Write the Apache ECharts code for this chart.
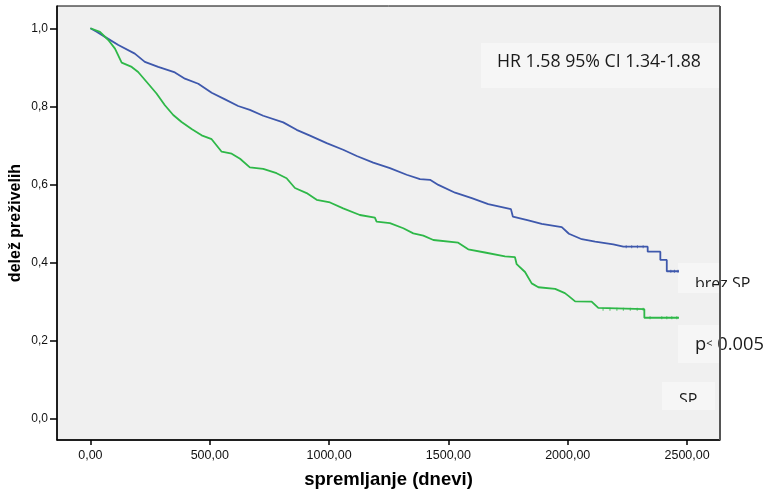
<!DOCTYPE html>
<html>
<head>
<meta charset="utf-8">
<script src="https://cdn.jsdelivr.net/npm/echarts@6/dist/echarts.min.js"></script>
<style>
  html, body { margin: 0; padding: 0; background: #ffffff; }
  #chart { width: 765px; height: 491px; }
</style>
</head>
<body>
<div id="chart"></div>
<script>
// Kaplan-Meier survival: follow-up in days vs. proportion surviving
const xTicks = [0, 500, 1000, 1500, 2000, 2500];
const yTicks = [0, 0.2, 0.4, 0.6, 0.8, 1.0];

// group without SP  [day, survival]
const brezSP = [
  [0, 1.0], [26, 0.991], [61, 0.978], [117, 0.957], [186, 0.935], [228, 0.914],
  [284, 0.901], [354, 0.887], [396, 0.871], [452, 0.858], [508, 0.835], [564, 0.818],
  [619, 0.801], [668, 0.791], [724, 0.776], [808, 0.759], [864, 0.740], [920, 0.725],
  [990, 0.706], [1059, 0.689], [1116, 0.673], [1185, 0.656], [1255, 0.642], [1325, 0.625],
  [1381, 0.614], [1423, 0.612], [1458, 0.599], [1528, 0.579], [1598, 0.565], [1667, 0.550],
  [1762, 0.537], [1770, 0.518], [1835, 0.508], [1891, 0.499], [1975, 0.491], [2005, 0.474],
  [2059, 0.460], [2115, 0.454], [2191, 0.447], [2233, 0.441], [2335, 0.441], [2335, 0.428],
  [2388, 0.428], [2388, 0.407], [2415, 0.407], [2415, 0.378], [2466, 0.378]
];

// group with SP  [day, survival]
const sp = [
  [0, 1.0], [40, 0.991], [75, 0.970], [103, 0.948], [131, 0.912], [173, 0.901],
  [200, 0.888], [235, 0.863], [277, 0.833], [312, 0.803], [347, 0.778], [382, 0.760],
  [424, 0.742], [466, 0.726], [508, 0.716], [550, 0.684], [592, 0.679], [627, 0.666],
  [668, 0.644], [724, 0.640], [780, 0.629], [822, 0.616], [857, 0.591], [906, 0.578],
  [948, 0.561], [1004, 0.554], [1059, 0.539], [1129, 0.522], [1192, 0.515], [1199, 0.505],
  [1255, 0.501], [1311, 0.488], [1353, 0.475], [1395, 0.469], [1437, 0.458], [1541, 0.451],
  [1583, 0.434], [1653, 0.426], [1737, 0.416], [1779, 0.414], [1786, 0.396], [1821, 0.376],
  [1849, 0.347], [1877, 0.337], [1947, 0.333], [1988, 0.322], [2003, 0.315], [2031, 0.301],
  [2100, 0.300], [2128, 0.284], [2135, 0.281], [2321, 0.281], [2321, 0.259], [2466, 0.259]
];

// censored observations in the tail
const brezSPCensored = [[2245, 0.441], [2268, 0.441], [2292, 0.441], [2316, 0.441], [2432, 0.378], [2447, 0.378], [2462, 0.378]];
const spCensored = [
  [2148, 0.281], [2177, 0.281], [2206, 0.281], [2233, 0.281], [2262, 0.281], [2291, 0.281], [2316, 0.281],
  [2345, 0.259], [2394, 0.259], [2415, 0.259], [2436, 0.259], [2457, 0.259]
];

const xTitle = 'spremljanje (dnevi)';
const yTitle = 'delež preživelih';
const hrText = 'HR 1.58 95% CI 1.34-1.88';
const groupLabels = ['brez SP', 'SP'];

const BLUE = '#3E58AC';
const GREEN = '#2EB848';
const PLOT_BG = '#f0f0f0';
const BOX_BG = '#f6f6f6';

const chart = echarts.init(document.getElementById('chart'), null, { renderer: 'canvas' });

const fmtX = v => v.toFixed(2).replace('.', ',');
const fmtY = v => v.toFixed(1).replace('.', ',');

chart.setOption({
  animation: false,
  backgroundColor: '#ffffff',
  grid: {
    left: 57, right: 45, top: 6, bottom: 51,
    show: true,
    backgroundColor: PLOT_BG,
    borderColor: '#000000',
    borderWidth: 1,
    outerBoundsMode: 'none'
  },
  xAxis: {
    type: 'value',
    min: -140, max: 2638,
    name: xTitle,
    nameLocation: 'middle',
    nameGap: 30,
    nameTextStyle: { fontFamily: 'Liberation Sans', fontWeight: 'bold', fontSize: 18.5, color: '#000' },
    axisLine: { show: true, onZero: false, lineStyle: { color: '#000', width: 1.5 } },
    axisTick: { show: true, customValues: xTicks, length: 5, lineStyle: { color: '#000', width: 1.5 } },
    axisLabel: { customValues: xTicks, formatter: fmtX, margin: 9, fontFamily: 'Liberation Sans', fontSize: 12.5, color: '#111' },
    splitLine: { show: false }
  },
  yAxis: {
    type: 'value',
    min: -0.054, max: 1.057,
    name: yTitle,
    nameLocation: 'middle',
    nameGap: 33,
    nameMoveOverlap: false,
    nameTextStyle: { fontFamily: 'Liberation Sans', fontWeight: 'bold', fontSize: 16, color: '#000' },
    axisLine: { show: true, onZero: false, lineStyle: { color: '#000', width: 1.5 } },
    axisTick: { show: true, customValues: yTicks, length: 7, lineStyle: { color: '#000', width: 1.5 } },
    axisLabel: { customValues: yTicks, formatter: fmtY, margin: 9, fontFamily: 'Liberation Sans', fontSize: 12, color: '#111' },
    splitLine: { show: false }
  },
  series: [
    {
      name: groupLabels[0], type: 'line', data: brezSP,
      showSymbol: false, silent: true,
      lineStyle: { color: BLUE, width: 1.8 }, z: 3
    },
    {
      name: groupLabels[1], type: 'line', data: sp,
      showSymbol: false, silent: true,
      lineStyle: { color: GREEN, width: 1.8 }, z: 3
    },
    {
      type: 'scatter', data: brezSPCensored, silent: true,
      symbol: 'rect', symbolSize: [1, 3], itemStyle: { color: BLUE }, z: 4
    },
    {
      type: 'scatter', data: spCensored, silent: true,
      symbol: 'rect', symbolSize: [1, 3], itemStyle: { color: GREEN }, z: 4
    }
  ],
  graphic: [
    // annotation boxes
    { type: 'rect', shape: { x: 481, y: 43, width: 238, height: 45 }, style: { fill: BOX_BG }, z: 1, silent: true },
    { type: 'rect', shape: { x: 678, y: 263, width: 41, height: 30 }, style: { fill: BOX_BG }, z: 1, silent: true },
    { type: 'rect', shape: { x: 678, y: 325, width: 41, height: 38 }, style: { fill: BOX_BG }, z: 1, silent: true },
    { type: 'rect', shape: { x: 662, y: 382, width: 53, height: 28 }, style: { fill: BOX_BG }, z: 1, silent: true },
    {
      type: 'text', x: 497, y: 62, z: 10, silent: true,
      style: { text: hrText, fontFamily: 'Open Sans', fontSize: 17.7, fill: '#1a1a1a', verticalAlign: 'middle' }
    },
    {
      type: 'text', x: 695, y: 292, z: 10, silent: true,
      style: { text: groupLabels[0], fontFamily: 'Open Sans', fontSize: 16, fill: '#1a1a1a', verticalAlign: 'bottom' }
    },
    {
      type: 'text', x: 679, y: 408.5, z: 10, silent: true,
      style: { text: groupLabels[1], fontFamily: 'Open Sans', fontSize: 16, fill: '#1a1a1a', verticalAlign: 'bottom' }
    },
    {
      type: 'text', x: 695, y: 354, z: 10, silent: true,
      style: {
        text: '{p|p}{lt|<}{p| 0.005}',
        verticalAlign: 'bottom',
        rich: {
          p: { fontFamily: 'Open Sans', fontSize: 18.3, fill: '#1a1a1a', verticalAlign: 'bottom' },
          lt: { fontFamily: 'Open Sans', fontSize: 11, fill: '#1a1a1a', verticalAlign: 'bottom', padding: [0, 0, 5, 0] }
        }
      }
    },
    // lower edge of the group labels is cut off by their frames
    { type: 'rect', shape: { x: 690, y: 287, width: 29, height: 6 }, style: { fill: BOX_BG }, z: 11, silent: true },
    { type: 'rect', shape: { x: 721, y: 287, width: 35, height: 6 }, style: { fill: '#ffffff' }, z: 11, silent: true },
    { type: 'rect', shape: { x: 675, y: 402, width: 30, height: 7 }, style: { fill: BOX_BG }, z: 11, silent: true },
    // right frame edge
    { type: 'line', shape: { x1: 720, y1: 6, x2: 720, y2: 440 }, style: { stroke: '#555555', lineWidth: 2 }, z: 12, silent: true }
  ]
});
</script>
</body>
</html>
